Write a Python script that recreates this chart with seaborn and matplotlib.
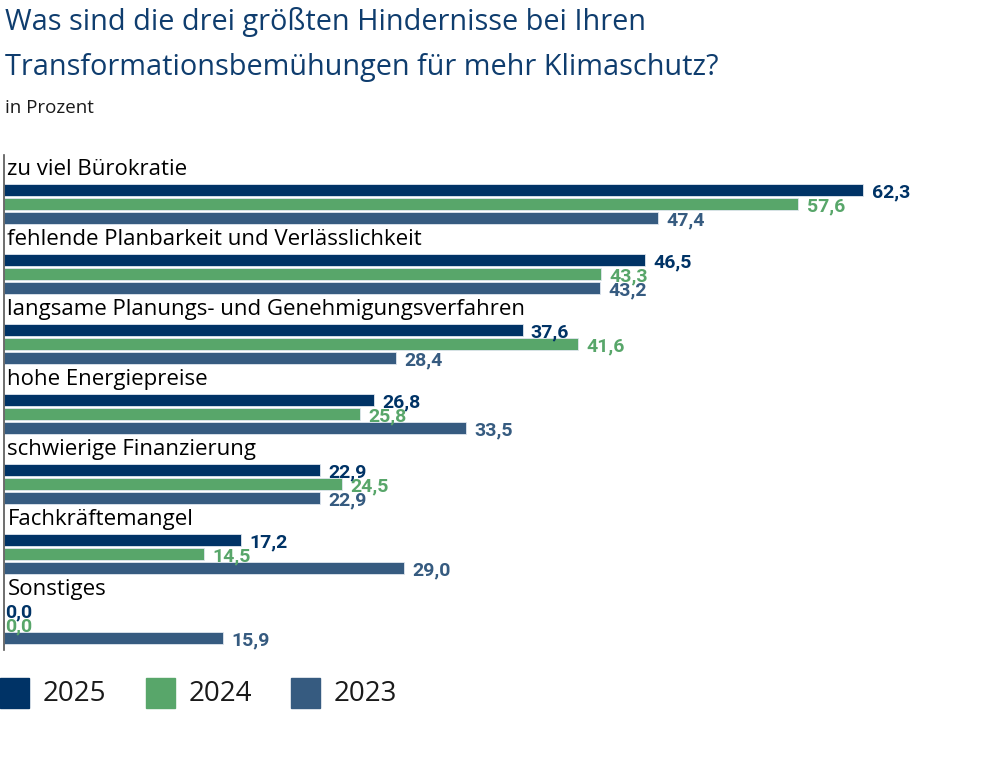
import matplotlib.pyplot as plt
import seaborn as sns
import pandas as pd

# Daten
kategorien = [
    "zu viel Bürokratie",
    "fehlende Planbarkeit und Verlässlichkeit",
    "langsame Planungs- und Genehmigungsverfahren",
    "hohe Energiepreise",
    "schwierige Finanzierung",
    "Fachkräftemangel",
    "Sonstiges",
]
jahre = ["2025", "2024", "2023"]
werte_2025 = [62.3, 46.5, 37.6, 26.8, 22.9, 17.2, 0.0]
werte_2024 = [57.6, 43.3, 41.6, 25.8, 24.5, 14.5, 0.0]
werte_2023 = [47.4, 43.2, 28.4, 33.5, 22.9, 29.0, 15.9]
farben = ["#003366", "#58a66a", "#365b80"]

df = pd.DataFrame({
    "Kategorie": kategorien * 3,
    "Jahr": [j for j in jahre for _ in kategorien],
    "Wert": werte_2025 + werte_2024 + werte_2023,
})

sns.set_style("white")
plt.rcParams["font.family"] = ["Open Sans", "DejaVu Sans"]

fig = plt.figure(figsize=(9.86, 7.64), dpi=100)
ax = fig.add_axes([4 / 986, 1 - 650 / 764, 982 / 986, (650 - 155) / 764])

sns.barplot(data=df, y="Kategorie", x="Wert", hue="Jahr", hue_order=jahre,
            palette=farben, saturation=1, orient="h", width=0.6, gap=0.1,
            dodge=True, edgecolor="#dfe6ee", linewidth=0.6, legend=False, ax=ax)

ax.set_xlim(0, 71.2)
ax.set_ylim(6.37, -0.7)
ax.set_xlabel("")
ax.set_ylabel("")
ax.set_xticks([])
ax.set_yticks([])
for s in ["top", "right", "bottom"]:
    ax.spines[s].set_visible(False)
ax.spines["left"].set_color("#555555")
ax.spines["left"].set_linewidth(1.2)

# Kategorienamen über den Balken
for i, k in enumerate(kategorien):
    ax.text(0.25, i - 0.5, k, fontsize=16, color="black", va="center", ha="left")

# Werte
offsets = [-0.2, 0.0, 0.2]
for j, werte in enumerate([werte_2025, werte_2024, werte_2023]):
    for i, v in enumerate(werte):
        ax.text(v + (0.6 if v > 0 else 0.05), i + offsets[j] + 0.04,
                f"{v:.1f}".replace(".", ","),
                fontsize=14, fontweight="bold", color=farben[j],
                va="center", ha="left", family=["Roboto", "DejaVu Sans"])

# Titel
fig.text(5 / 986, 1 - 22 / 764, "Was sind die drei größten Hindernisse bei Ihren",
         fontsize=20.8, color="#0f3d6e", va="center", ha="left")
fig.text(5 / 986, 1 - 68 / 764, "Transformationsbemühungen für mehr Klimaschutz?",
         fontsize=20.8, color="#0f3d6e", va="center", ha="left")
fig.text(5 / 986, 1 - 108 / 764, "in Prozent", fontsize=13.5, color="#1a1a1a",
         va="center", ha="left")

# Legende
legende_x = [0, 146, 291]
for j, jahr in enumerate(jahre):
    x0 = legende_x[j] / 986
    fig.patches.append(plt.Rectangle((x0, 1 - 708 / 764), 29 / 986, 30 / 764,
                                     transform=fig.transFigure, color=farben[j]))
    fig.text((legende_x[j] + 43) / 986, 1 - 694 / 764, jahr, fontsize=20,
             color="#1a1a1a", va="center", ha="left")

fig.savefig("out.png", dpi=100)
